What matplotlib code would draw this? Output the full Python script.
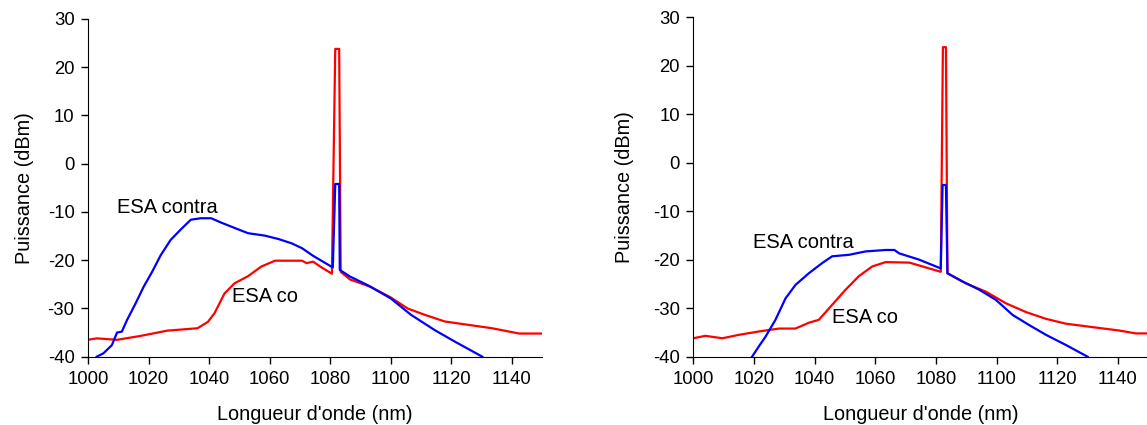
import matplotlib
matplotlib.use("Agg")
import matplotlib.pyplot as plt

plt.rcParams["font.family"] = ["Liberation Sans", "DejaVu Sans"]
plt.rcParams["font.size"] = 12
plt.rcParams["axes.unicode_minus"] = False

# Left panel: wavelength (nm) / power (dBm)
left_contra_x = [1002.9, 1005.1, 1007.9, 1009.6, 1011.2, 1012.9, 1015.7, 1018.4, 1021.2, 1024.0,
                 1027.3, 1030.7, 1034.0, 1037.3, 1040.7, 1044.0, 1048.4, 1052.9, 1058.4, 1062.9,
                 1067.3, 1070.7, 1074.4, 1080.9, 1081.7, 1083.0, 1083.2, 1086.6, 1092.2, 1100.0,
                 1106.7, 1114.6, 1121.3, 1130.3]
left_contra_y = [-40.0, -39.3, -37.6, -35.0, -34.8, -32.4, -29.0, -25.5, -22.4, -19.0,
                 -15.8, -13.6, -11.6, -11.3, -11.3, -12.2, -13.3, -14.4, -14.9, -15.6,
                 -16.5, -17.5, -19.1, -21.5, -4.2, -4.2, -22.0, -23.4, -25.1, -27.9,
                 -31.3, -34.5, -36.9, -40.0]
left_co_x = [1000.0, 1002.9, 1009.6, 1017.3, 1026.2, 1036.2, 1039.6, 1041.8, 1045.1, 1048.4,
             1052.9, 1057.3, 1061.8, 1070.7, 1072.2, 1074.4, 1076.7, 1080.6, 1081.7, 1083.0,
             1083.5, 1086.6, 1093.3, 1100.0, 1105.6, 1111.2, 1117.9, 1125.7, 1133.5, 1142.5,
             1150.0]
left_co_y = [-36.5, -36.2, -36.5, -35.7, -34.6, -34.1, -32.8, -31.0, -26.9, -24.8,
             -23.3, -21.3, -20.1, -20.1, -20.6, -20.3, -21.3, -22.8, 23.8, 23.8,
             -22.4, -24.0, -25.5, -27.7, -30.0, -31.3, -32.7, -33.4, -34.1, -35.2,
             -35.2]

# Right panel
right_contra_x = [1019.4, 1021.6, 1023.8, 1027.1, 1030.4, 1033.7, 1038.1, 1042.5, 1045.8, 1051.3,
                  1056.8, 1063.4, 1066.3, 1067.9, 1074.5, 1081.6, 1082.2, 1083.3, 1083.8, 1088.8,
                  1094.3, 1099.8, 1105.3, 1110.8, 1116.3, 1122.9, 1130.0]
right_contra_y = [-40.0, -37.9, -35.9, -32.4, -28.0, -25.2, -22.8, -20.7, -19.3, -19.0,
                  -18.3, -18.0, -18.0, -18.7, -20.0, -21.8, -4.6, -4.6, -22.8, -24.5,
                  -26.2, -28.3, -31.4, -33.5, -35.5, -37.6, -40.0]
right_co_x = [1000.0, 1004.0, 1009.6, 1015.0, 1021.6, 1028.2, 1033.7, 1038.1, 1041.4, 1045.8,
              1050.2, 1054.6, 1059.0, 1063.4, 1071.2, 1075.6, 1081.6, 1082.3, 1083.3, 1083.8,
              1089.9, 1096.5, 1103.1, 1109.7, 1116.3, 1122.9, 1131.6, 1140.4, 1145.9, 1150.0]
right_co_y = [-36.2, -35.7, -36.2, -35.5, -34.8, -34.2, -34.2, -33.0, -32.4, -29.3,
              -26.2, -23.4, -21.4, -20.5, -20.6, -21.4, -22.5, 23.8, 23.8, -22.8,
              -24.9, -26.6, -29.0, -30.8, -32.2, -33.2, -33.9, -34.6, -35.2, -35.2]

xticks = [1000, 1020, 1040, 1060, 1080, 1100, 1120, 1140]
yticks = [-40, -30, -20, -10, 0, 10, 20, 30]

fig = plt.figure(figsize=(11.47, 4.25), dpi=100)
ax1 = fig.add_axes([0.0767, 0.1607, 0.3958, 0.7946])
ax2 = fig.add_axes([0.6044, 0.1607, 0.3967, 0.7990])

panels = [
    (ax1, left_contra_x, left_contra_y, left_co_x, left_co_y,
     (1009.6, -9.0), (1047.5, -27.6), 10),
    (ax2, right_contra_x, right_contra_y, right_co_x, right_co_y,
     (1019.7, -16.4), (1045.8, -32.0), 13.5),
]

for ax, cx, cy, ox, oy, contra_pos, co_pos, ypad in panels:
    ax.plot(ox, oy, color="red", lw=1.6)
    ax.plot(cx, cy, color="blue", lw=1.6)
    ax.set_xlim(1000, 1150)
    ax.set_ylim(-40, 30)
    ax.set_xticks(xticks)
    ax.set_yticks(yticks)
    ax.spines["top"].set_visible(False)
    ax.spines["right"].set_visible(False)
    ax.tick_params(direction="out", length=4.7, width=1.0, labelsize=13.3)
    ax.tick_params(axis="x", pad=5.5)
    ax.tick_params(axis="y", pad=5)
    ax.set_xlabel("Longueur d'onde (nm)", fontsize=14.3, labelpad=12)
    ax.set_ylabel("Puissance (dBm)", fontsize=14.3, labelpad=ypad)
    ax.text(contra_pos[0], contra_pos[1], "ESA contra", fontsize=14.5, va="center", ha="left")
    ax.text(co_pos[0], co_pos[1], "ESA co", fontsize=14.5, va="center", ha="left")

fig.savefig("out.png", dpi=100)
